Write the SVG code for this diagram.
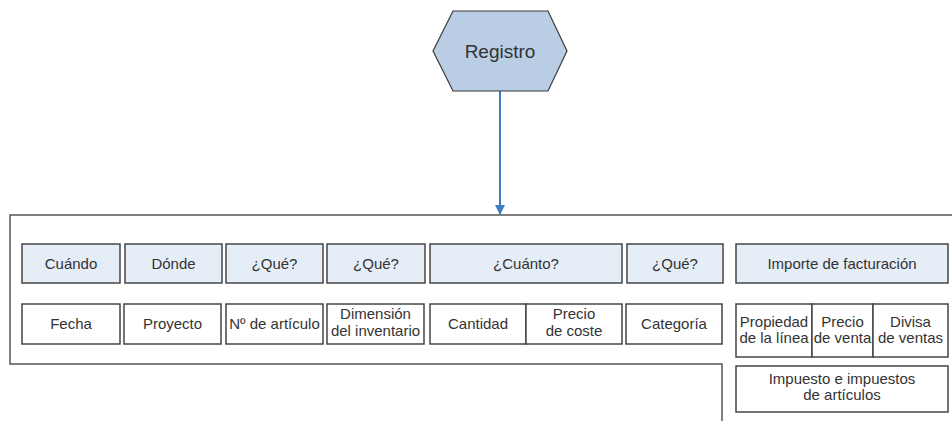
<svg xmlns="http://www.w3.org/2000/svg" width="952" height="421" viewBox="0 0 952 421">
  <style>
    .frame { fill: none; stroke: #555; stroke-width: 1.5; }
    .box { stroke: #454545; stroke-width: 1.5; }
    .head { fill: #e5edf7; }
    .cell { fill: #ffffff; }
    text { font-family: "Liberation Sans", Arial, sans-serif; font-size: 15px; fill: #333; text-anchor: middle; }
    .big { font-size: 19px; }
    .edge { stroke: #3f7ec6; stroke-width: 2; fill: none; }
  </style>
  <defs>
    <marker id="arrow" viewBox="0 0 10 10" refX="9" refY="5" markerWidth="5" markerHeight="5" orient="auto">
      <path d="M0,0 L10,5 L0,10 z" fill="#3f7ec6"/>
    </marker>
  </defs>

  <rect width="952" height="421" fill="#ffffff"/>

  <!-- outer frame -->
  <g id="frame">
    <path class="frame" d="M952,215 H10 V364 H722 V421"/>
  </g>

  <!-- connectors -->
  <g id="connectors">
    <line class="edge" x1="500" y1="91" x2="500" y2="214" marker-end="url(#arrow)"/>
  </g>

  <g id="registro">
    <polygon points="453,11 548,11 567,51 548,91 453,91 433,51" fill="#b9cde5" stroke="#3a3a3a" stroke-width="1.2"/>
    <text class="big" x="500" y="58">Registro</text>
  </g>

  <!-- header row -->
  <g id="cuando"><rect class="box head" x="22" y="244" width="98" height="39"/><text x="71" y="269">Cuándo</text></g>
  <g id="donde"><rect class="box head" x="125" y="244" width="97" height="39"/><text x="173.5" y="269">Dónde</text></g>
  <g id="que1"><rect class="box head" x="226" y="244" width="97" height="39"/><text x="274.5" y="269">¿Qué?</text></g>
  <g id="que2"><rect class="box head" x="327" y="244" width="98" height="39"/><text x="376" y="269">¿Qué?</text></g>
  <g id="cuanto"><rect class="box head" x="430" y="244" width="192" height="39"/><text x="526" y="269">¿Cuánto?</text></g>
  <g id="que3"><rect class="box head" x="627" y="244" width="96" height="39"/><text x="675" y="269">¿Qué?</text></g>
  <g id="importe"><rect class="box head" x="736" y="244" width="212" height="39"/><text x="842" y="269">Importe de facturación</text></g>

  <!-- detail row -->
  <g id="fecha"><rect class="box cell" x="22" y="304" width="98" height="40"/><text x="71" y="329">Fecha</text></g>
  <g id="proyecto"><rect class="box cell" x="124" y="304" width="97" height="40"/><text x="172.5" y="329">Proyecto</text></g>
  <g id="articulo"><rect class="box cell" x="226" y="304" width="97" height="40"/><text x="274.5" y="329">Nº de artículo</text></g>
  <g id="dimension"><rect class="box cell" x="327" y="304" width="97" height="40"/><text x="375.5" y="319">Dimensión</text><text x="375.5" y="336">del inventario</text></g>
  <g id="cantidad"><rect class="box cell" x="430" y="304" width="96" height="40"/><text x="478" y="329">Cantidad</text></g>
  <g id="precio-coste"><rect class="box cell" x="526" y="304" width="96" height="40"/><text x="574" y="319">Precio</text><text x="574" y="336">de coste</text></g>
  <g id="categoria"><rect class="box cell" x="626" y="304" width="96" height="40"/><text x="674" y="329">Categoría</text></g>

  <g id="propiedad"><rect class="box cell" x="736" y="304" width="76" height="53"/><text x="774" y="327">Propiedad</text><text x="774" y="343">de la línea</text></g>
  <g id="precio-venta"><rect class="box cell" x="812" y="304" width="61" height="53"/><text x="842.5" y="327">Precio</text><text x="842.5" y="343">de venta</text></g>
  <g id="divisa"><rect class="box cell" x="873" y="304" width="75" height="53"/><text x="910.5" y="327">Divisa</text><text x="910.5" y="343">de ventas</text></g>
  <g id="impuesto"><rect class="box cell" x="736" y="366" width="212" height="46"/><text x="842" y="384">Impuesto e impuestos</text><text x="842" y="400">de artículos</text></g>
</svg>
